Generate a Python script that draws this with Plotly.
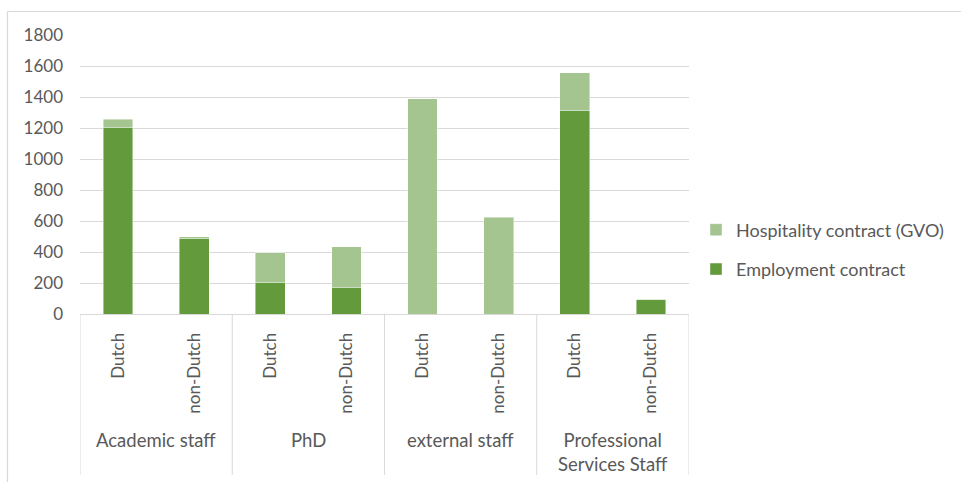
import numpy as np
import plotly.graph_objects as go

# Staff headcount by contract type, split by nationality within each staff group
groups = ["Academic staff", "PhD", "external staff", "Professional<br>Services Staff"]
nationalities = ["Dutch", "non-Dutch"]
employment = [1205, 485, 205, 170, 0, 0, 1310, 95]
hospitality = [50, 15, 190, 265, 1390, 625, 245, 0]

DARK = "#629A3C"
LIGHT = "#A4C590"
TEXT = "#595959"
GRID = "#D9D9D9"
FONT = "Lato, Open Sans, sans-serif"
FS = 17

W, H = 961, 482
L, R, T, B = 80, 272, 35, 168
plot_w = W - L - R
plot_h = H - T - B

x = np.arange(len(employment))
ticktext = nationalities * len(groups)

fig = go.Figure()
fig.add_trace(go.Bar(
    x=x, y=employment, name="Employment contract",
    marker=dict(color=DARK, line=dict(color="rgba(255,255,255,0.55)", width=0.8)),
    width=0.39, legendgroup="emp", legendrank=2,
))
fig.add_trace(go.Bar(
    x=x, y=hospitality, name="Hospitality contract (GVO)",
    marker=dict(color=LIGHT, line=dict(color="rgba(255,255,255,0.55)", width=0.8)),
    width=0.39, legendgroup="hosp", legendrank=1,
))


def py(pixel_y):
    """Convert a page y pixel to paper coordinates."""
    return (H - B - pixel_y) / plot_h


def px(pixel_x):
    return (pixel_x - L) / plot_w


shapes = []
# vertical dividers of the category table below the axis
for i in range(len(groups) + 1):
    xb = 2 * i - 0.5
    shapes.append(dict(type="line", xref="x", yref="paper", x0=xb, x1=xb,
                       y0=0, y1=py(475), line=dict(color=GRID, width=1)))
# chart frame (top and left edges)
shapes.append(dict(type="line", xref="paper", yref="paper", x0=px(7.5), x1=px(962),
                   y0=py(11.5), y1=py(11.5), line=dict(color=GRID, width=1.2)))
shapes.append(dict(type="line", xref="paper", yref="paper", x0=px(7.5), x1=px(7.5),
                   y0=py(11.5), y1=py(483), line=dict(color=GRID, width=1.2)))

annotations = []
for i, g in enumerate(groups):
    annotations.append(dict(
        x=2 * i + 0.5, xref="x", y=py(427), yref="paper", text=g,
        showarrow=False, xanchor="center", yanchor="top",
        font=dict(family=FONT, size=18.5, color=TEXT), align="center",
    ))

fig.update_layout(
    width=W, height=H,
    margin=dict(l=L, r=R, t=T, b=B, pad=0),
    paper_bgcolor="white", plot_bgcolor="white",
    barmode="stack",
    font=dict(family=FONT, size=FS, color=TEXT),
    xaxis=dict(
        range=[-0.5, len(employment) - 0.5], tickvals=x, ticktext=ticktext,
        tickangle=-90, showgrid=False, zeroline=False, showline=True,
        linecolor=GRID, linewidth=1, ticks="", ticklabelstandoff=11,
        tickfont=dict(family=FONT, size=FS, color=TEXT),
    ),
    yaxis=dict(
        range=[0, 1800], dtick=200, showgrid=True, gridcolor=GRID, gridwidth=1,
        zeroline=False, showline=False, ticks="", ticklabelstandoff=16,
        tickfont=dict(family=FONT, size=FS, color=TEXT),
    ),
    legend=dict(
        x=px(696), y=py(249.5), xanchor="left", yanchor="middle",
        traceorder="grouped", tracegroupgap=13,
        font=dict(family=FONT, size=18, color=TEXT),
        bgcolor="rgba(0,0,0,0)",
    ),
    shapes=shapes, annotations=annotations,
    showlegend=True,
)

fig.write_html("out.html")
